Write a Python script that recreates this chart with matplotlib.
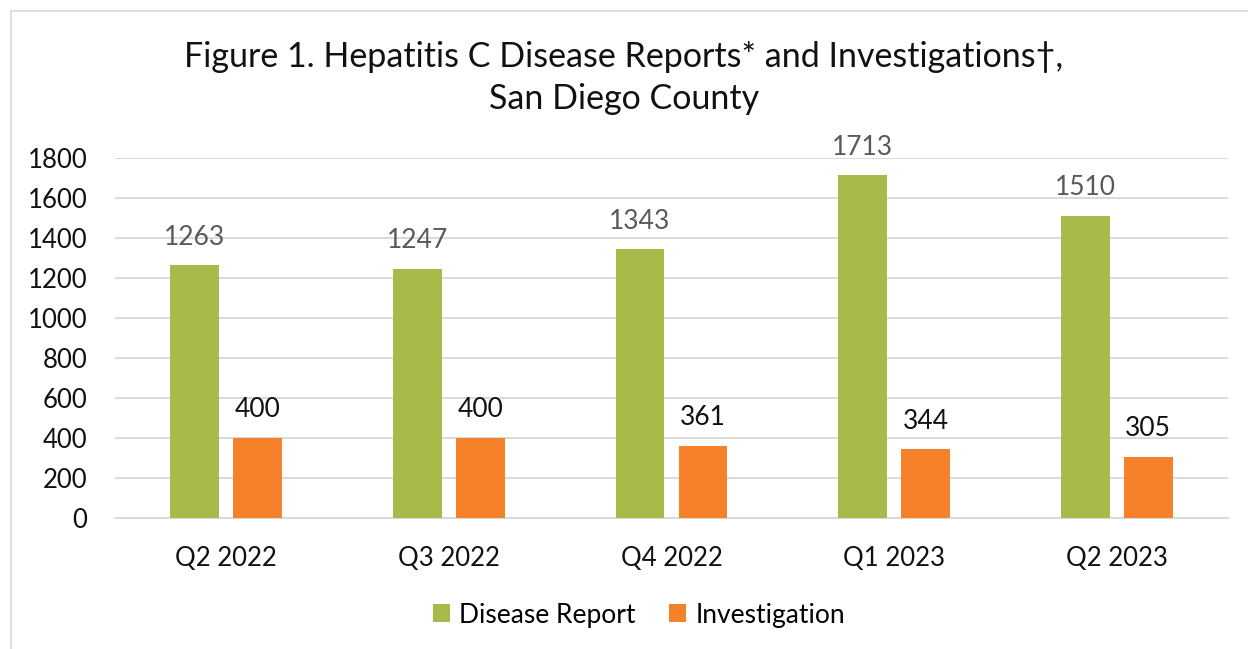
import matplotlib.pyplot as plt
import numpy as np

plt.rcParams['font.family'] = ['Lato', 'DejaVu Sans']

quarters = ["Q2 2022", "Q3 2022", "Q4 2022", "Q1 2023", "Q2 2023"]
disease_reports = [1263, 1247, 1343, 1713, 1510]
investigations = [400, 400, 361, 344, 305]
series_names = ["Disease Report", "Investigation"]
y_ticks = [0, 200, 400, 600, 800, 1000, 1200, 1400, 1600, 1800]

green = "#A8BB4A"
orange = "#F5822A"
grid_col = "#D9D9D9"

W, H = 1248, 649
fig = plt.figure(figsize=(W / 100, H / 100), dpi=100)

# outer chart frame
frame = plt.Rectangle((11 / W, -0.01), 1.1, (H - 11) / H + 0.01, transform=fig.transFigure,
                      fill=False, edgecolor=grid_col, linewidth=1.2)
fig.patches.append(frame)

ax = fig.add_axes([115 / W, 1 - 518 / H, (1228 - 115) / W, (518 - 158) / H])

x = np.arange(len(quarters))
bw = 0.22
gap = 0.063
off = (bw + gap) / 2
b1 = ax.bar(x - off, disease_reports, bw, color=green, label=series_names[0], zorder=3)
b2 = ax.bar(x + off, investigations, bw, color=orange, label=series_names[1], zorder=3)

for rect, v in zip(b1, disease_reports):
    ax.text(rect.get_x() + rect.get_width() / 2, v + 78, str(v), ha='center', va='bottom',
            fontsize=19, color="#595959")
for rect, v in zip(b2, investigations):
    ax.text(rect.get_x() + rect.get_width() / 2, v + 78, str(v), ha='center', va='bottom',
            fontsize=19, color="#111111")

ax.set_xlim(-0.5, len(quarters) - 0.5)
ax.set_ylim(0, 1800)
ax.set_yticks(y_ticks)
ax.set_xticks(x)
ax.set_xticklabels(quarters)
ax.tick_params(axis='both', length=0, labelsize=18.5, colors="#111111")
ax.tick_params(axis='y', pad=20)
ax.tick_params(axis='x', pad=20)
ax.grid(axis='y', color=grid_col, linewidth=1.4, zorder=0)
for s in ['top', 'right', 'left']:
    ax.spines[s].set_visible(False)
ax.spines['bottom'].set_color(grid_col)
ax.spines['bottom'].set_linewidth(1.4)

fig.text(0.5, 1 - 78 / H, "Figure 1. Hepatitis C Disease Reports* and Investigations\u2020,\nSan Diego County",
         ha='center', va='center', fontsize=24.5, color="#111111", linespacing=1.4)

fig.legend(handles=[b1, b2], labels=series_names, loc='center', bbox_to_anchor=(0.512, 1 - 615 / H),
           ncol=2, frameon=False, fontsize=19, handlelength=0.65, handleheight=0.65,
           handletextpad=0.35, columnspacing=1.25)

fig.savefig("out.png", dpi=100)
